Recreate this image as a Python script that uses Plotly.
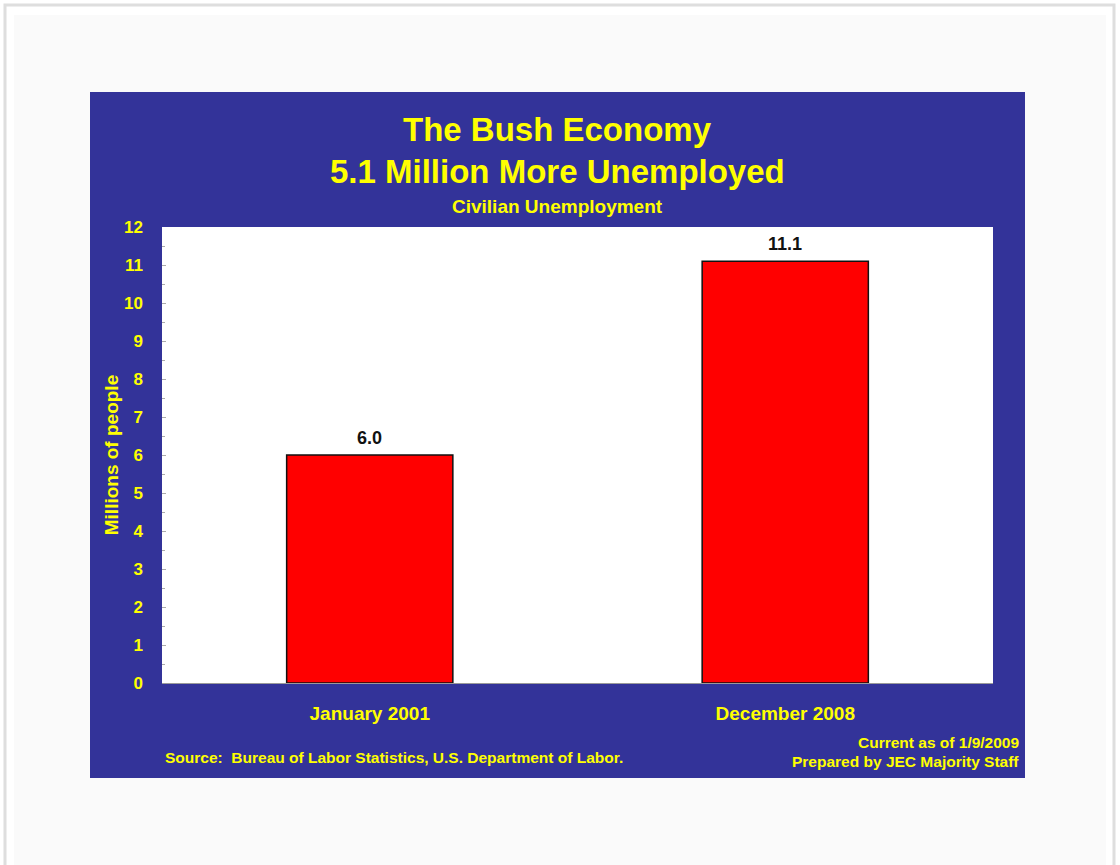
import plotly.graph_objects as go

categories = ["January 2001", "December 2008"]
values = [6.0, 11.1]
value_labels = ["6.0", "11.1"]
y_ticks = list(range(0, 13))

title_lines = ["The Bush Economy", "5.1 Million More Unemployed"]
subtitle = "Civilian Unemployment"
source_text = "Source:  Bureau of Labor Statistics, U.S. Department of Labor."
footer_lines = ["Current as of 1/9/2009", "Prepared by JEC Majority Staff"]

W, H = 1120, 865
L, R, T, B = 162, 993, 227, 683
pw, ph = R - L, B - T


def px(x):
    return (x - L) / pw


def py(y):
    return (B - y) / ph


BLUE = "#333399"
YEL = "#ffff00"
FONT = "Liberation Sans, Arial, sans-serif"

fig = go.Figure()
fig.add_trace(go.Bar(
    x=categories, y=values, width=0.4,
    marker=dict(color="#ff0000", line=dict(color="#111111", width=1.5)),
    hoverinfo="skip",
))

shapes = [
    dict(type="rect", xref="paper", yref="paper", layer="below",
         x0=px(5), x1=px(1114), y0=py(5), y1=py(880),
         line=dict(color="#dedede", width=3), fillcolor="#ffffff"),
    dict(type="rect", xref="paper", yref="paper", layer="below",
         x0=px(14), x1=px(1106), y0=py(15), y1=py(880),
         line=dict(width=0), fillcolor="#fafafa"),
    dict(type="rect", xref="paper", yref="paper", layer="below",
         x0=px(90), x1=px(1025), y0=py(92), y1=py(778),
         line=dict(width=0), fillcolor=BLUE),
    dict(type="rect", xref="paper", yref="paper", layer="below",
         x0=0, x1=1, y0=0, y1=1,
         line=dict(width=0), fillcolor="#ffffff"),
]

annotations = []
cx = px(557)
annotations.append(dict(text="<b>%s</b>" % title_lines[0], x=cx, y=py(129), xref="paper", yref="paper",
                        showarrow=False, xanchor="center", yanchor="middle",
                        font=dict(family=FONT, size=33, color=YEL)))
annotations.append(dict(text="<b>%s</b>" % title_lines[1], x=cx, y=py(171), xref="paper", yref="paper",
                        showarrow=False, xanchor="center", yanchor="middle",
                        font=dict(family=FONT, size=33, color=YEL)))
annotations.append(dict(text="<b>%s</b>" % subtitle, x=cx, y=py(206), xref="paper", yref="paper",
                        showarrow=False, xanchor="center", yanchor="middle",
                        font=dict(family=FONT, size=19, color=YEL)))
annotations.append(dict(text="<b>%s</b>" % source_text, x=px(163), y=py(757), xref="paper", yref="paper",
                        showarrow=False, xanchor="left", yanchor="middle",
                        font=dict(family=FONT, size=15.5, color=YEL)))
for line, yy in zip(footer_lines, [742, 761]):
    annotations.append(dict(text="<b>%s</b>" % line, x=px(1021), y=py(yy), xref="paper", yref="paper",
                            showarrow=False, xanchor="right", yanchor="middle",
                            font=dict(family=FONT, size=15.5, color=YEL)))
for c, v, lab in zip(categories, values, value_labels):
    annotations.append(dict(text="<b>%s</b>" % lab, x=c, y=v, xref="x", yref="y",
                            showarrow=False, xanchor="center", yanchor="middle", yshift=17,
                            font=dict(family=FONT, size=18, color="#111111")))

fig.update_layout(
    width=W, height=H,
    margin=dict(l=L, r=W - R, t=T, b=H - B, pad=0),
    paper_bgcolor="#ffffff",
    plot_bgcolor="rgba(0,0,0,0)",
    showlegend=False,
    shapes=shapes,
    annotations=annotations,
    bargap=0.6,
)
fig.update_xaxes(
    showgrid=False, zeroline=False,
    showline=True, linecolor="#9a9a9a", linewidth=1,
    ticks="", ticklabelstandoff=13,
    tickfont=dict(family=FONT, size=19, color=YEL, weight="bold"),
    fixedrange=True,
)
fig.update_yaxes(
    range=[0, 12], tickvals=y_ticks,
    showgrid=False, zeroline=False, showline=False,
    ticks="inside", ticklen=4, tickcolor="#aaaaaa",
    minor=dict(dtick=0.5, ticks="inside", ticklen=3, tickcolor="#aaaaaa"),
    ticklabelstandoff=18,
    tickfont=dict(family=FONT, size=17, color=YEL, weight="bold"),
    title=dict(text="<b>Millions of people</b>", standoff=0,
               font=dict(family=FONT, size=19, color=YEL)),
    fixedrange=True,
)

fig.write_html("out.html", config={"displayModeBar": False})
